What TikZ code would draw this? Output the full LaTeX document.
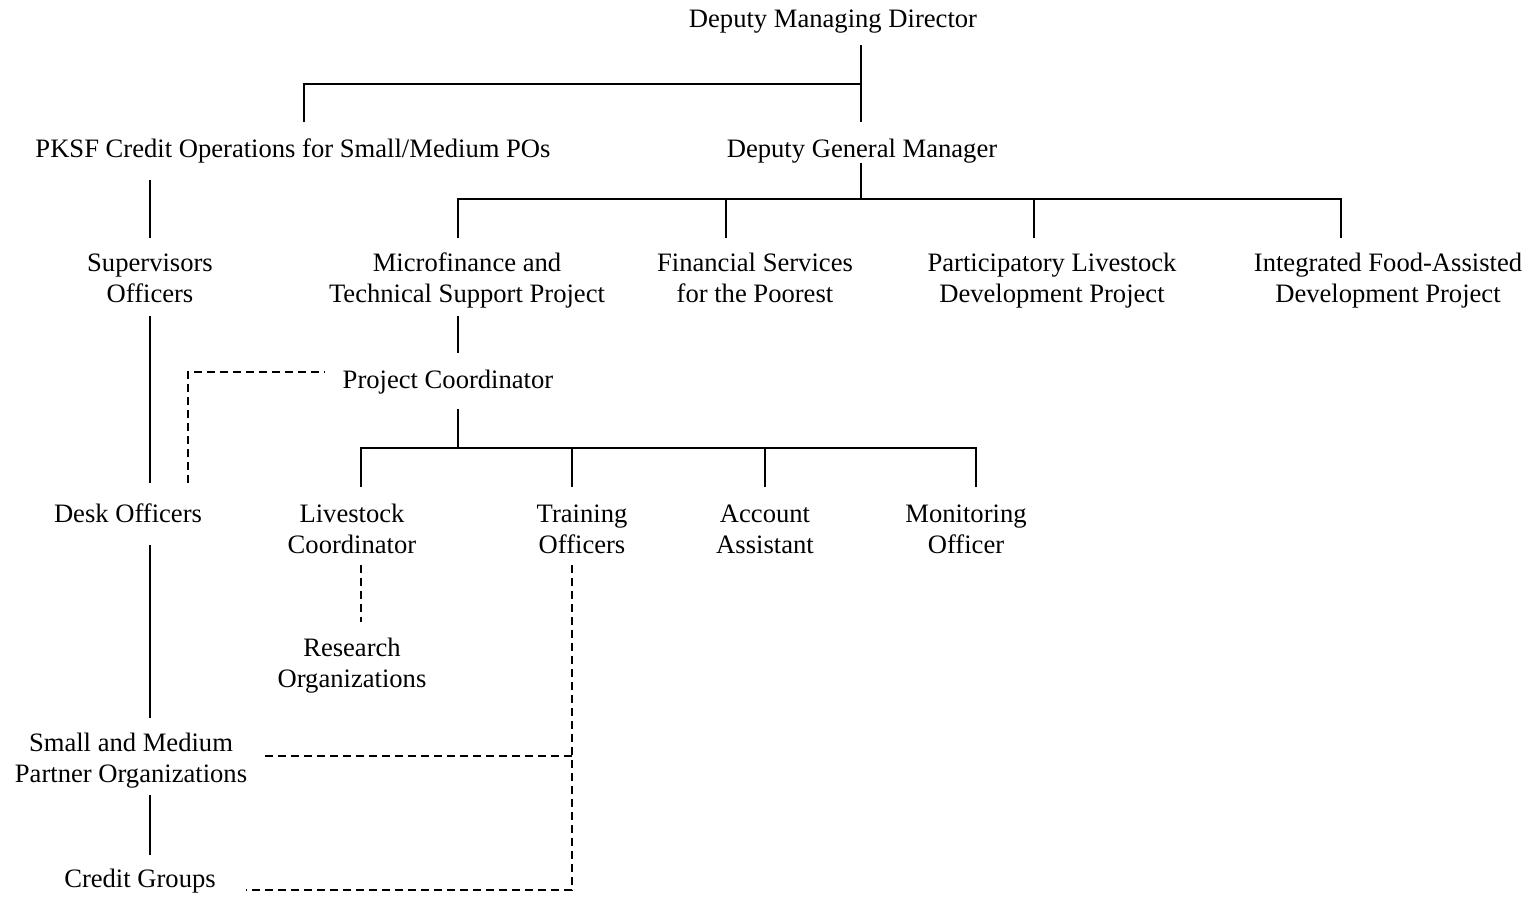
\documentclass[tikz,border=0pt]{standalone}
\usepackage{fontspec}
\setmainfont{Liberation Serif}
\begin{document}
\begin{tikzpicture}[x=1pt,y=-1pt,
  lbl/.style={font=\fontsize{26.6}{31}\selectfont, align=center, inner sep=0pt, anchor=base},
  conn/.style={line width=1.4pt},
  dconn/.style={line width=1.4pt, dash pattern=on 8pt off 5pt}]
\useasboundingbox (0,0) rectangle (1530,898);
% nodes (anchor=base is the baseline of the last line)
\node[lbl] (dmd) at (833,27) {Deputy Managing Director};
\node[lbl] (pksf) at (293,157) {PKSF Credit Operations for Small/Medium POs};
\node[lbl] (dgm) at (862,157) {Deputy General Manager};
\node[lbl] (sup) at (150,302) {Supervisors\\Officers};
\node[lbl] (mtsp) at (467,302) {Microfinance and\\Technical Support Project};
\node[lbl] (fsp) at (755,302) {Financial Services\\for the Poorest};
\node[lbl] (pld) at (1052,302) {Participatory Livestock\\Development Project};
\node[lbl] (ifa) at (1388,302) {Integrated Food-Assisted\\Development Project};
\node[lbl] (pc) at (448,388) {Project Coordinator};
\node[lbl] (desk) at (128,522) {Desk Officers};
\node[lbl] (lc) at (352,553) {Livestock\\Coordinator};
\node[lbl] (tro) at (582,553) {Training\\Officers};
\node[lbl] (aa) at (765,553) {Account\\Assistant};
\node[lbl] (mo) at (966,553) {Monitoring\\Officer};
\node[lbl] (ro) at (352,687) {Research\\Organizations};
\node[lbl] (smpo) at (131,782) {Small and Medium\\Partner Organizations};
\node[lbl] (cg) at (140,887) {Credit Groups};
% connector end points
\coordinate (dmdS) at (861,45);
\coordinate (dgmN) at (861,122);
\coordinate (pksfN) at (304,122);
\coordinate (busA) at (861,84);
\coordinate (pksfS) at (150,180);
\coordinate (supN) at (150,238);
\coordinate (dgmS) at (861,163);
\coordinate (busB) at (861,199);
\coordinate (mtspN) at (458,238);
\coordinate (fspN) at (726,238);
\coordinate (pldN) at (1034,238);
\coordinate (ifaN) at (1341,238);
\coordinate (supS) at (150,316);
\coordinate (deskN) at (150,483);
\coordinate (deskNd) at (188,483);
\coordinate (pcW) at (325,372);
\coordinate (mtspS) at (458,316);
\coordinate (pcN) at (458,353);
\coordinate (pcS) at (458,409);
\coordinate (busC) at (458,448);
\coordinate (lcN) at (361,487);
\coordinate (troN) at (572,487);
\coordinate (aaN) at (765,487);
\coordinate (moN) at (976,487);
\coordinate (lcS) at (361,565);
\coordinate (roN) at (361,622);
\coordinate (deskS) at (150,545);
\coordinate (smpoN) at (150,718);
\coordinate (troS) at (572,565);
\coordinate (troB) at (572,890);
\coordinate (cgE) at (246,890);
\coordinate (smpoE) at (265,756);
\coordinate (troM) at (572,756);
\coordinate (smpoS) at (150,795);
\coordinate (cgN) at (150,855);
% solid connectors
\draw[conn] (dmdS) -- (dgmN);
\draw[conn] (pksfN) |- (busA);
\draw[conn] (pksfS) -- (supN);
\draw[conn] (dgmS) -- (busB);
\draw[conn] (mtspN) |- (busB) -| (ifaN);
\draw[conn] (fspN) |- (busB);
\draw[conn] (pldN) |- (busB);
\draw[conn] (supS) -- (deskN);
\draw[conn] (mtspS) -- (pcN);
\draw[conn] (pcS) -- (busC);
\draw[conn] (lcN) |- (busC) -| (moN);
\draw[conn] (troN) |- (busC);
\draw[conn] (aaN) |- (busC);
\draw[conn] (deskS) -- (smpoN);
\draw[conn] (smpoS) -- (cgN);
% dashed connectors
\draw[dconn] (deskNd) |- (pcW);
\draw[dconn] (lcS) -- (roN);
\draw[dconn] (troS) -- (troB) -- (cgE);
\draw[dconn] (smpoE) -- (troM);
\end{tikzpicture}
\end{document}
